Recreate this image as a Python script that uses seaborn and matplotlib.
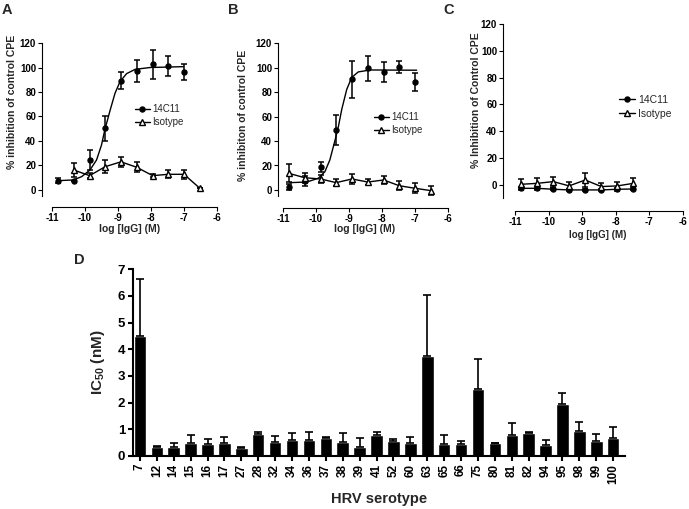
#!/usr/bin/env python3
"""Dose-response panels (A-C) and IC50 bar chart (D) for 14C11."""

import matplotlib

matplotlib.use("Agg")

import matplotlib.pyplot as plt
import pandas as pd
import seaborn as sns
from matplotlib.lines import Line2D

sns.set_theme(style="ticks")
plt.rcParams["font.family"] = ["Liberation Sans", "DejaVu Sans"]
plt.rcParams["mathtext.fontset"] = "custom"
plt.rcParams["mathtext.rm"] = "Liberation Sans:bold"
plt.rcParams["mathtext.bf"] = "Liberation Sans:bold"
plt.rcParams["axes.unicode_minus"] = False

W, H = 689, 509

# log10 of the antibody dilution series (3-fold steps)
LOG_DOSE = [-10.82, -10.34, -9.86, -9.39, -8.91, -8.43, -7.95, -7.48, -7.0, -6.52]

# panel A
A_MAB = [7.6, 7.6, 24.5, 50.3, 89.2, 97.1, 102.6, 101.2, 96.6]
A_MAB_ERR = [2.0, 0.0, 7.9, 10.5, 6.8, 9.3, 11.6, 8.4, 6.5]
A_ISO = [16.3, 11.7, 19.0, 23.0, 18.5, 11.7, 12.8, 12.8, 1.4]
A_ISO_ERR = [5.7, 2.0, 5.2, 4.0, 4.0, 1.5, 3.4, 3.5, 0.0]
A_FIT_X = [-10.81, -10.35, -10.1, -9.85, -9.65, -9.5, -9.4, -9.24, -9.09,
           -8.94, -8.74, -8.48, -8.03, -7.02]
A_FIT_Y = [7.6, 8.2, 10.9, 16.3, 24.5, 36.7, 49.0, 65.0, 79.0, 88.4, 95.0,
           98.5, 100.0, 100.7]

# panel B
B_MAB = [2.7, 7.6, 18.5, 49.0, 90.3, 99.3, 96.6, 100.7, 88.4]
B_MAB_ERR = [2.5, 4.0, 4.0, 12.0, 15.0, 10.5, 8.2, 4.9, 7.3]
B_ISO = [13.6, 10.0, 9.0, 6.0, 9.0, 6.5, 8.2, 3.5, 1.4, -0.5]
B_ISO_ERR = [7.3, 4.0, 3.0, 3.0, 4.3, 2.5, 3.5, 3.8, 4.0, 3.4]
B_FIT_X = [-10.79, -10.28, -9.93, -9.73, -9.58, -9.42, -9.32, -9.22, -9.07,
           -8.92, -8.72, -8.36, -6.95]
B_FIT_Y = [6.0, 6.5, 9.6, 15.0, 24.6, 41.0, 52.0, 65.8, 82.0, 91.8, 96.4,
           98.0, 97.8]

# panel C
C_MAB = [-2.5, -2.5, -3.2, -3.7, -3.7, -3.7, -3.2, -3.0]
C_MAB_ERR = [1.0, 1.0, 0.8, 1.0, 0.8, 1.0, 1.0, 1.0]
C_ISO = [0.5, 1.2, 2.5, -0.7, 3.7, -1.2, -0.7, 1.2]
C_ISO_ERR = [3.7, 4.2, 3.7, 3.0, 5.2, 2.7, 2.8, 4.0]

# panel D
SEROTYPES = ["7", "12", "14", "15", "16", "17", "27", "28", "32", "34", "36",
             "37", "38", "39", "41", "52", "60", "63", "65", "66", "75", "80",
             "81", "82", "94", "95", "98", "99", "100"]
IC50 = [4.5, 0.35, 0.35, 0.47, 0.45, 0.47, 0.31, 0.83, 0.51, 0.6, 0.6, 0.68,
        0.51, 0.35, 0.8, 0.56, 0.47, 3.76, 0.46, 0.46, 2.5, 0.47, 0.79, 0.88,
        0.4, 1.96, 0.95, 0.56, 0.66]
IC50_ERR = [2.12, 0.02, 0.15, 0.33, 0.2, 0.26, 0.02, 0.07, 0.25, 0.27, 0.31,
            0.03, 0.34, 0.31, 0.1, 0.09, 0.24, 2.26, 0.31, 0.09, 1.12, 0.0,
            0.46, 0.02, 0.2, 0.39, 0.32, 0.26, 0.44]


def px_axes(fig, left, top, right, bottom):
    return fig.add_axes([left / W, 1 - bottom / H, (right - left) / W,
                         (bottom - top) / H])


def style_curve_axes(ax, ylabel, ybottom, tick_size=7):
    sns.despine(ax=ax)
    ax.set_xticks(range(-11, -5))
    ax.set_yticks(range(0, 121, 20))
    ax.spines["left"].set_bounds(ybottom, 120)
    ax.spines["bottom"].set_bounds(-11, -6)
    for sp in ("left", "bottom"):
        ax.spines[sp].set_linewidth(0.8)
        ax.spines[sp].set_color("black")
    ax.tick_params(direction="out", length=2.8, width=0.8, pad=1.5,
                   labelsize=tick_size, colors="black")
    for lab in ax.get_xticklabels() + ax.get_yticklabels():
        lab.set_fontweight("bold")
    ax.set_ylabel(ylabel, fontsize=7.5, fontweight="bold")


def draw_errors(ax, x, y, err):
    ax.errorbar(x, y, yerr=err, fmt="none", ecolor="black", elinewidth=1.1,
                capsize=2.3, capthick=1.1, zorder=2)


def legend_handles():
    return [
        Line2D([], [], color="black", lw=1, marker="o", markersize=3.6),
        Line2D([], [], color="black", lw=1, marker="^", markersize=4.6,
               markerfacecolor="white", markeredgecolor="black",
               markeredgewidth=1),
    ]


def add_legend(ax, fig, left_px, top_px, size=7):
    ax.legend(legend_handles(), ["14C11", "Isotype"], loc="upper left",
              bbox_to_anchor=(left_px / W, 1 - top_px / H),
              bbox_transform=fig.transFigure, frameon=False, fontsize=size,
              borderpad=0, borderaxespad=0, handlelength=1.5,
              handletextpad=0.3, labelspacing=0.35)


def plot_points(ax, x, y, marker, connect):
    if connect:
        sns.lineplot(x=x, y=y, ax=ax, color="black", lw=1, sort=False,
                     estimator=None, zorder=3)
    if marker == "o":
        ax.plot(x, y, "o", color="black", markersize=3.6, zorder=4)
    else:
        ax.plot(x, y, "^", markerfacecolor="white", markeredgecolor="black",
                markeredgewidth=1, markersize=4.6, zorder=4)


def panel_a(fig):
    ax = px_axes(fig, 42, 38, 220, 207)
    ax.set_xlim(-11.303, -5.909)
    ax.set_ylim(-13.9, 124.1)
    sns.lineplot(x=A_FIT_X, y=A_FIT_Y, ax=ax, color="black", lw=1,
                 sort=False, estimator=None)
    draw_errors(ax, LOG_DOSE[:9], A_MAB, A_MAB_ERR)
    plot_points(ax, LOG_DOSE[:9], A_MAB, "o", False)
    draw_errors(ax, LOG_DOSE[1:], A_ISO, A_ISO_ERR)
    plot_points(ax, LOG_DOSE[1:], A_ISO, "^", True)
    style_curve_axes(ax, "% inhibition of control CPE", -5)
    ax.yaxis.set_label_coords(-0.140, 0.621)
    ax.set_xlabel("log [IgG] (M)", fontsize=7.5, fontweight="bold", va="top")
    ax.xaxis.set_label_coords(0.494, -0.100)
    add_legend(ax, fig, 135, 104)


def panel_b(fig):
    ax = px_axes(fig, 278, 38, 451, 208)
    ax.set_xlim(-11.152, -5.909)
    ax.set_ylim(-14.7, 124.1)
    sns.lineplot(x=B_FIT_X, y=B_FIT_Y, ax=ax, color="black", lw=1,
                 sort=False, estimator=None)
    draw_errors(ax, LOG_DOSE[:9], B_MAB, B_MAB_ERR)
    plot_points(ax, LOG_DOSE[:9], B_MAB, "o", False)
    draw_errors(ax, LOG_DOSE, B_ISO, B_ISO_ERR)
    plot_points(ax, LOG_DOSE, B_ISO, "^", True)
    style_curve_axes(ax, "% inhibiton of control CPE", -5)
    ax.yaxis.set_label_coords(-0.173, 0.547)
    ax.set_xlabel("log [IgG] (M)", fontsize=7.5, fontweight="bold", va="top")
    ax.xaxis.set_label_coords(0.503, -0.094)
    add_legend(ax, fig, 374, 112)


def panel_c(fig):
    ax = px_axes(fig, 503, 20, 686, 211)
    ax.set_xlim(-11.357, -5.911)
    ax.set_ylim(-19.4, 122.9)
    draw_errors(ax, LOG_DOSE[:8], C_MAB, C_MAB_ERR)
    plot_points(ax, LOG_DOSE[:8], C_MAB, "o", True)
    draw_errors(ax, LOG_DOSE[:8], C_ISO, C_ISO_ERR)
    plot_points(ax, LOG_DOSE[:8], C_ISO, "^", True)
    style_curve_axes(ax, "% Inhibition of Control CPE", -10)
    ax.yaxis.set_label_coords(-0.12, 0.581)
    ax.set_xlabel("log [IgG] (M)", fontsize=7, fontweight="bold", va="top")
    ax.xaxis.set_label_coords(0.519, -0.100)
    add_legend(ax, fig, 619, 95, size=7.5)


def panel_d(fig):
    ax = px_axes(fig, 133, 266, 625, 456)
    df = pd.DataFrame({"serotype": SEROTYPES, "ic50": IC50, "err": IC50_ERR})
    sns.barplot(data=df, x="serotype", y="ic50", color="black", saturation=1,
                width=0.74, errorbar=None, ax=ax)
    ax.errorbar(range(len(df)), df["ic50"], yerr=[[0] * len(df), df["err"]],
                fmt="none", ecolor="black", elinewidth=1.2, capsize=3,
                capthick=1.2)
    ax.set_xlim(-0.41, 28.7)
    ax.set_ylim(0, 7.12)
    ax.set_yticks(range(0, 8))
    sns.despine(ax=ax)
    ax.spines["left"].set_bounds(0, 7)
    for sp in ("left", "bottom"):
        ax.spines[sp].set_linewidth(1.5)
        ax.spines[sp].set_color("black")
    ax.tick_params(direction="out", length=3.5, width=1.5, colors="black")
    ax.tick_params(axis="y", labelsize=9.5, pad=2)
    ax.tick_params(axis="x", labelsize=8.5, pad=2, labelrotation=90)
    for lab in ax.get_xticklabels() + ax.get_yticklabels():
        lab.set_fontweight("bold")
    ax.set_ylabel("IC$_{50}$ (nM)", fontsize=11, fontweight="bold")
    ax.yaxis.set_label_coords(-0.053, 0.495)
    ax.set_xlabel("HRV serotype", fontsize=10.5, fontweight="bold", va="top")
    ax.xaxis.set_label_coords(0.5, -0.19)


def main():
    fig = plt.figure(figsize=(W / 100, H / 100), dpi=100)
    panel_a(fig)
    panel_b(fig)
    panel_c(fig)
    panel_d(fig)
    for letter, x, y in [("A", 2, 3), ("B", 228, 3), ("C", 443, 3),
                         ("D", 74, 253)]:
        fig.text(x / W, 1 - y / H, letter, fontsize=10.5, fontweight="bold",
                 ha="left", va="top")
    fig.savefig("out.png", dpi=100)
    plt.close(fig)


if __name__ == "__main__":
    main()
